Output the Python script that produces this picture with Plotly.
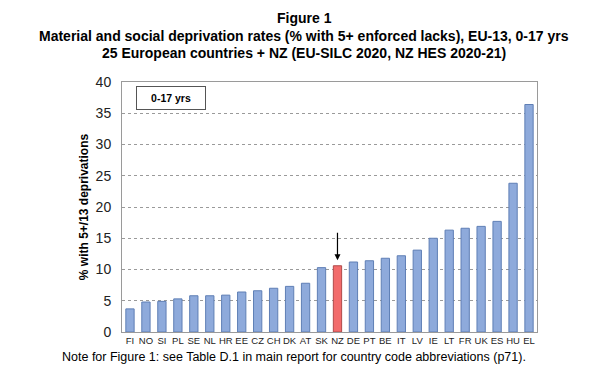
import plotly.graph_objects as go

countries = ["FI","NO","SI","PL","SE","NL","HR","EE","CZ","CH","DK","AT","SK","NZ",
             "DE","PT","BE","IT","LV","IE","LT","FR","UK","ES","HU","EL"]
rates = [3.7,4.8,4.9,5.3,5.8,5.8,5.9,6.4,6.6,7.0,7.3,7.8,10.3,10.6,
         11.2,11.4,11.8,12.2,13.1,15.0,16.3,16.6,16.9,17.7,23.8,36.4]
highlight = "NZ"
y_ticks = [0,5,10,15,20,25,30,35,40]

colors = ["#f26b6b" if c == highlight else "#8eaadb" for c in countries]
lines = ["#b04a4a" if c == highlight else "#5f7fb5" for c in countries]

fig = go.Figure(go.Bar(
    x=countries, y=rates,
    marker=dict(color=colors, line=dict(color=lines, width=1)),
    width=0.52,
))

# page body has an 8px default margin, so size/margins compensate
fig.update_layout(
    width=592, height=369,
    paper_bgcolor="white", plot_bgcolor="white",
    margin=dict(l=114, r=63, t=74, b=45),
    showlegend=False,
    font=dict(family="Liberation Sans, Arial", color="#000"),
)
fig.update_xaxes(
    showline=True, linecolor="#9a9a9a", linewidth=1, mirror=True,
    tickfont=dict(size=9.5, color="#222"), ticks="", showgrid=False,
    automargin=False,
)
fig.update_yaxes(
    range=[0,40], tickvals=y_ticks, showline=True, linecolor="#9a9a9a",
    linewidth=1, mirror=True, showgrid=True, gridcolor="#9a9a9a",
    griddash="dot", gridwidth=1, tickfont=dict(size=14, color="#222"),
    ticks="", zeroline=False, ticklabelstandoff=7, automargin=False,
    title=dict(text="<b>% with 5+/13 deprivations</b>", font=dict(size=12), standoff=4),
)

PW, PH = 415, 250
def px(x):
    return (x - 122) / PW
def py(y):
    return (331.7 - y) / PH

title_lines = [
    ("Figure 1", 18),
    ("Material and social deprivation rates (% with 5+ enforced lacks), EU-13, 0-17 yrs", 36),
    ("25 European countries + NZ (EU-SILC 2020, NZ HES 2020-21)", 53),
]
for txt, ypix in title_lines:
    fig.add_annotation(xref="paper", yref="paper", x=px(304), y=py(ypix),
                       xanchor="center", yanchor="middle",
                       text=f"<b>{txt}</b>", showarrow=False, font=dict(size=14))

# Label box
fig.add_annotation(xref="paper", yref="paper", x=px(170.5), y=py(97.5),
                   xanchor="center", yanchor="middle", text="<b>0-17 yrs</b>",
                   showarrow=False, font=dict(size=10.5), bordercolor="#555",
                   borderwidth=1, borderpad=2, bgcolor="white", width=64, height=18)

# Arrow to NZ
fig.add_annotation(x=highlight, y=rates[countries.index(highlight)] + 0.9,
                   ax=0, ay=-29, showarrow=True, arrowhead=2, arrowsize=1,
                   arrowwidth=1.2, arrowcolor="#000", text="")

# Note
fig.add_annotation(xref="paper", yref="paper", x=px(60), y=py(357),
                   xanchor="left", yanchor="middle",
                   text="Note for Figure 1: see Table D.1 in main report for country code abbreviations (p71).",
                   showarrow=False, font=dict(size=12.5))

fig.write_html("out.html")
